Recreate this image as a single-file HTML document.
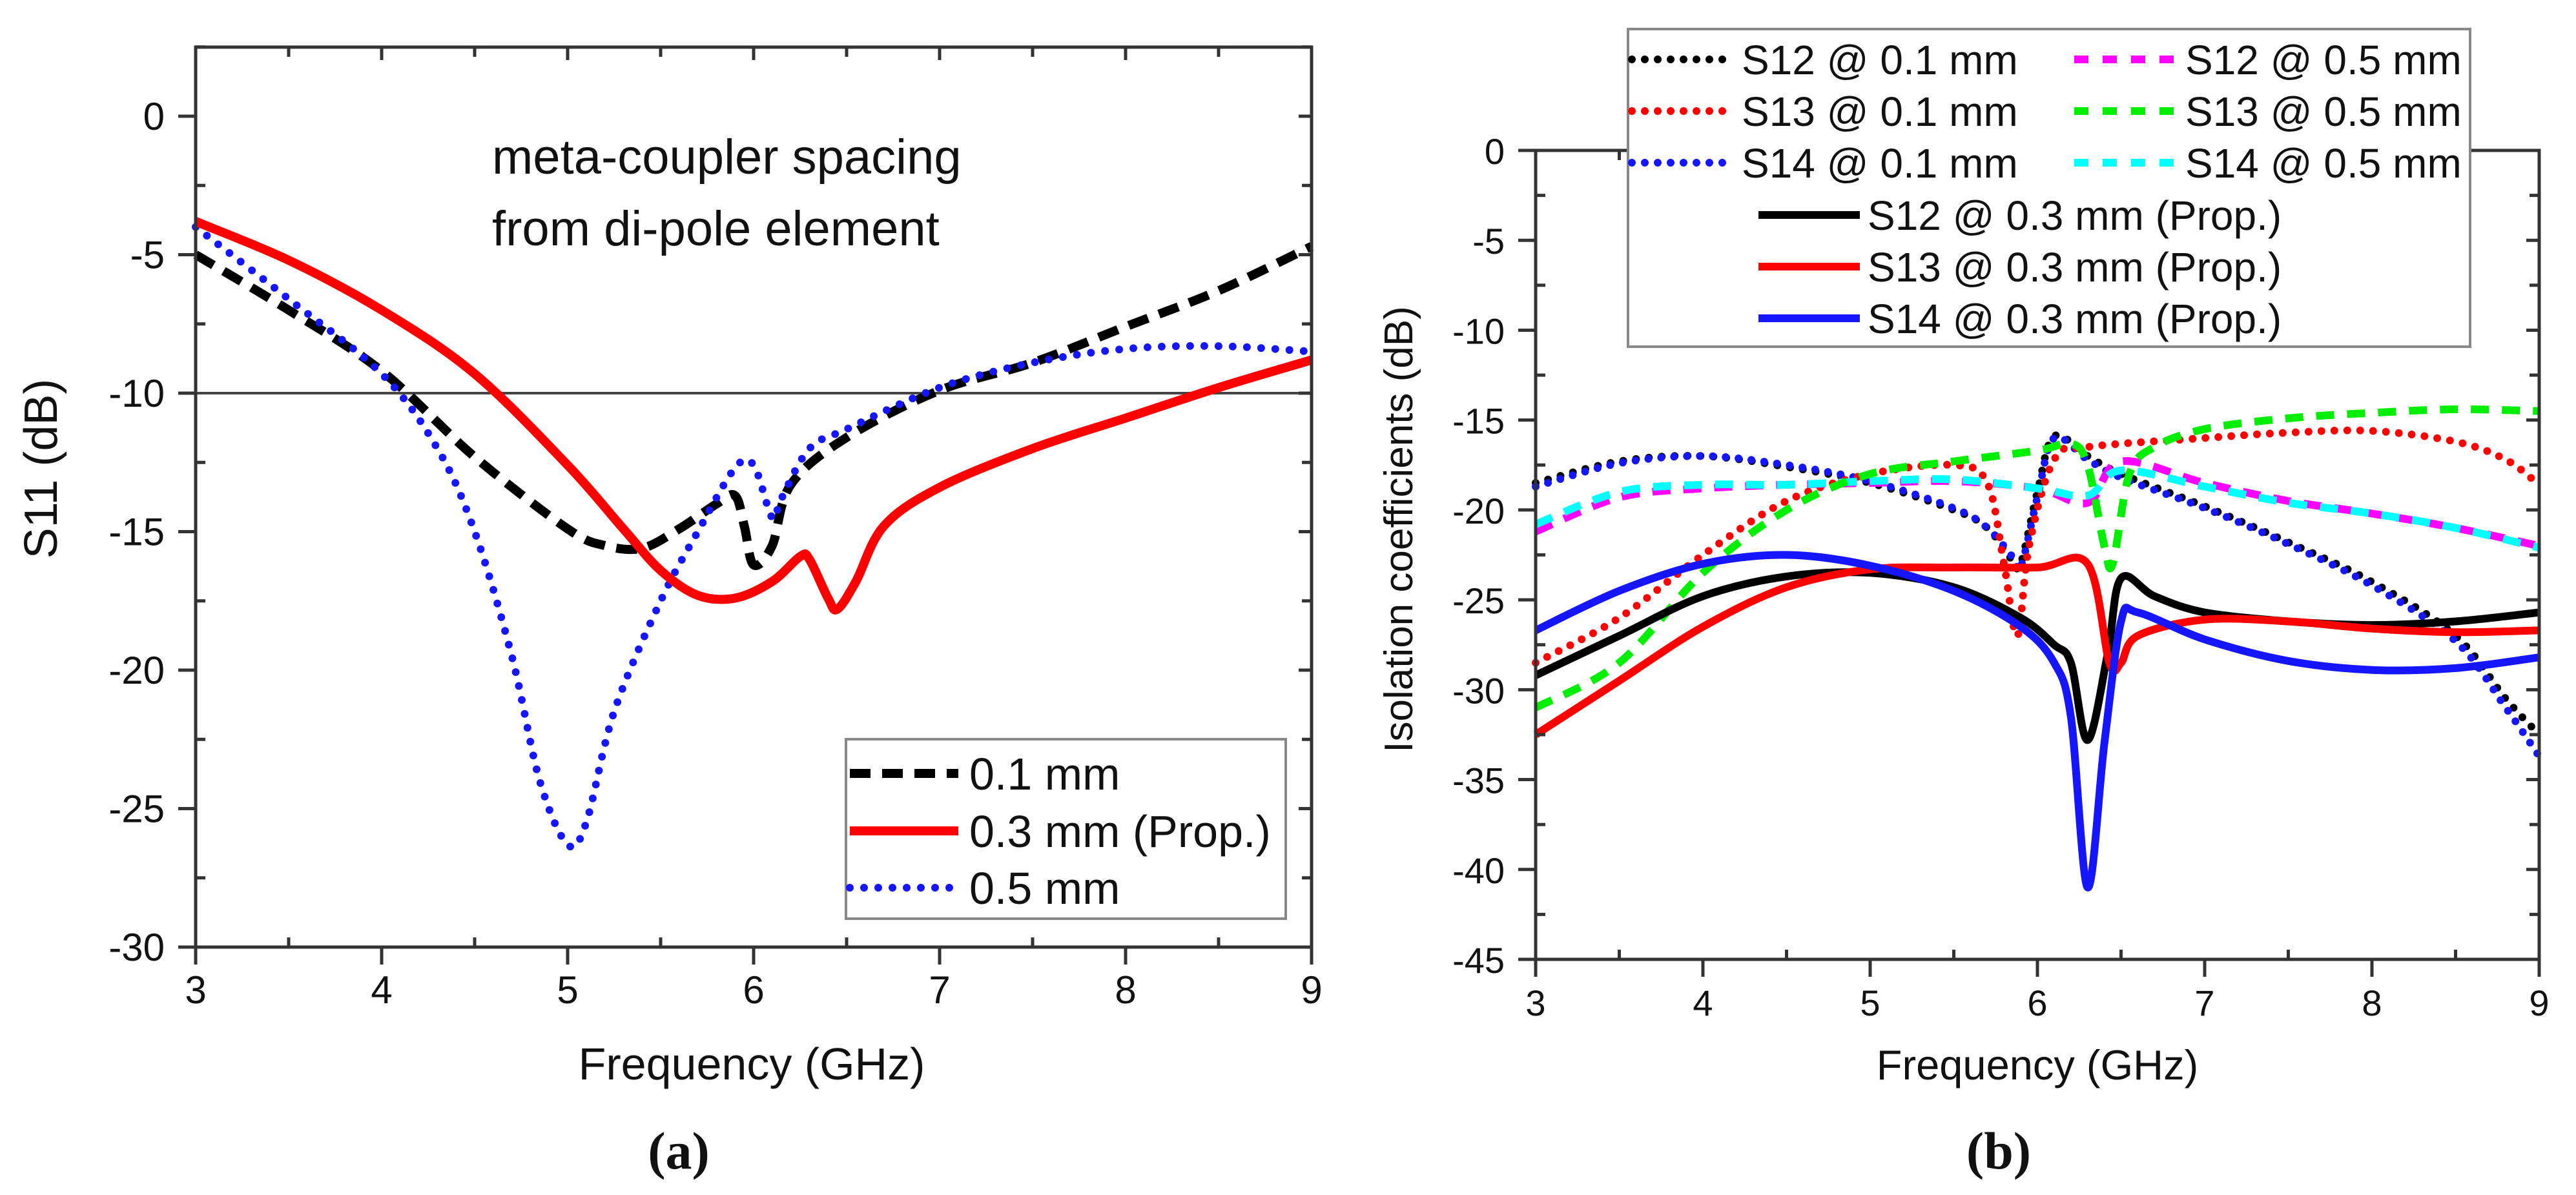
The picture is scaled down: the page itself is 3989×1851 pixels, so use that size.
<!DOCTYPE html>
<html><head><meta charset="utf-8"><style>
html,body{margin:0;padding:0;background:#fff;}
svg{display:block;font-family:"Liberation Sans",Arial,sans-serif;}
</style></head><body>
<svg id="fig" width="3989" height="1851" viewBox="0 0 3989 1851" xmlns="http://www.w3.org/2000/svg">
<rect width="3989" height="1851" fill="#fff"/>
<g id="pa"></g>
<g id="pb"></g>
</svg>
<script>
// ---------- Panel (a) data ----------
const aX01 = [3,3.5,4,4.5,5,5.2,5.4,5.6,5.8,5.9,5.95,6.0,6.1,6.2,6.5,7,7.5,8,8.5,9];
const aY01 = [-5.0,-7.0,-9.2,-12.3,-14.9,-15.5,-15.6,-14.9,-14.0,-13.7,-14.8,-16.2,-15.5,-13.3,-11.6,-9.9,-8.9,-7.6,-6.3,-4.7];
const aX03 = [3,3.5,4,4.5,5,5.3,5.5,5.7,5.9,6.1,6.25,6.3,6.4,6.45,6.55,6.7,7,7.5,8,8.5,9];
const aY03 = [-3.8,-5.2,-7.0,-9.3,-12.6,-14.9,-16.4,-17.3,-17.4,-16.8,-15.9,-16.0,-17.4,-17.8,-16.8,-14.8,-13.4,-12.0,-10.9,-9.8,-8.8];
const aX05 = [3,3.5,4,4.3,4.5,4.7,4.85,5,5.1,5.25,5.5,5.7,5.9,6.0,6.1,6.15,6.3,6.5,7,7.5,8,8.5,9];
const aY05 = [-4.0,-6.6,-9.3,-12,-15,-19.5,-24,-26.3,-25.5,-21.5,-17.5,-15,-12.7,-12.6,-14.5,-13.8,-12.0,-11.3,-9.8,-8.9,-8.4,-8.3,-8.5];
const aXTicks = [3,4,5,6,7,8,9];
const aYTicks = [0,-5,-10,-15,-20,-25,-30];
const aYLabels = ["0","-5","-10","-15","-20","-25","-30"];
const aRef = [-10];

// ---------- Panel (b) data ----------
const bX12_01 = [3,3.5,4,4.5,5,5.5,5.7,5.85,5.9,6.0,6.1,6.3,6.5,7,7.5,8,8.5,8.8,9];
const bY12_01 = [-18.5,-17.3,-17.0,-17.6,-18.5,-20.0,-21.0,-22.8,-23,-19,-15.9,-17.0,-18.0,-19.8,-21.8,-24,-27,-30.5,-32.5];
const bY14_01 = [-18.7,-17.4,-17.0,-17.5,-18.4,-19.9,-21.0,-22.6,-23.2,-19.3,-16.0,-17.2,-18.2,-19.9,-21.9,-24.2,-27.3,-31,-33.7];
const bX13_01 = [3,3.5,4,4.5,5,5.5,5.7,5.8,5.88,5.95,6.1,6.3,7,7.5,8,8.5,8.8,9];
const bY13_01 = [-28.5,-26,-22.5,-19.5,-18,-17.5,-18.5,-23,-27,-22,-17.2,-16.5,-16,-15.7,-15.6,-16.2,-17.2,-18.6];
const bX_05 = [3,3.5,4,4.5,5,5.5,6,6.3,6.5,7,7.5,8,8.5,9];
const bY12_05 = [-21.2,-19.3,-18.8,-18.6,-18.5,-18.4,-18.8,-19.6,-17.3,-18.5,-19.5,-20.2,-21,-22];
const bY14_05 = [-20.8,-19,-18.6,-18.6,-18.4,-18.3,-18.8,-19.2,-17.8,-18.7,-19.6,-20.2,-21,-22.1];
const bX13_05 = [3,3.5,4,4.5,5,5.5,6,6.2,6.3,6.4,6.45,6.55,6.7,7,7.5,8,8.5,9];
const bY13_05 = [-31,-28.5,-23.5,-20,-18,-17.3,-16.7,-16.3,-17.5,-22,-23,-18,-16.5,-15.5,-14.9,-14.6,-14.4,-14.5];
const bX12_03 = [3,3.5,4,4.5,5,5.5,5.9,6.1,6.2,6.3,6.42,6.5,6.7,7,7.5,8,8.5,9];
const bY12_03 = [-29.2,-27,-24.8,-23.7,-23.5,-24.3,-26,-27.5,-28.5,-32.8,-28,-23.8,-24.8,-25.7,-26.2,-26.4,-26.2,-25.7];
const bX13_03 = [3,3.5,4,4.5,5,5.5,6,6.3,6.43,6.5,6.6,7,7.5,8,8.5,9];
const bY13_03 = [-32.5,-29.5,-26.5,-24.3,-23.3,-23.2,-23.2,-23.0,-28.5,-28.5,-27,-26.1,-26.2,-26.6,-26.8,-26.7];
const bX14_03 = [3,3.5,4,4.5,5,5.5,5.9,6.1,6.2,6.3,6.4,6.5,6.6,7,7.5,8,8.5,9];
const bY14_03 = [-26.7,-24.5,-23,-22.5,-23.1,-24.5,-26.5,-28.5,-31.5,-41,-33,-26.2,-25.7,-27.2,-28.4,-28.9,-28.8,-28.2];
const bXTicks = [3,4,5,6,7,8,9];
const bYTicks = [0,-5,-10,-15,-20,-25,-30,-35,-40,-45];
const bYLabels = ["0","-5","-10","-15","-20","-25","-30","-35","-40","-45"];

const NS="http://www.w3.org/2000/svg";
function mk(parent,tag,attrs,text){const e=document.createElementNS(NS,tag);for(const k in attrs)e.setAttribute(k,attrs[k]);if(text!==undefined)e.textContent=text;parent.appendChild(e);return e;}
function scale(d0,d1,r0,r1){return v=>r0+(v-d0)*(r1-r0)/(d1-d0);}
function pathD(xs,ys,sx,sy){
  const P=xs.map((x,i)=>[sx(x),sy(ys[i])]);
  let d='M'+P[0][0].toFixed(1)+' '+P[0][1].toFixed(1);
  const k=0.5/3;
  for(let i=0;i<P.length-1;i++){
    const p0=P[Math.max(0,i-1)],p1=P[i],p2=P[i+1],p3=P[Math.min(P.length-1,i+2)];
    const c1=[p1[0]+(p2[0]-p0[0])*k,p1[1]+(p2[1]-p0[1])*k];
    const c2=[p2[0]-(p3[0]-p1[0])*k,p2[1]-(p3[1]-p1[1])*k];
    d+=' C'+c1[0].toFixed(1)+' '+c1[1].toFixed(1)+' '+c2[0].toFixed(1)+' '+c2[1].toFixed(1)+' '+p2[0].toFixed(1)+' '+p2[1].toFixed(1);
  }
  return d;
}
const STY={
  dash:{w:14,da:"32 18",cap:"butt"},
  solid:{w:14,da:"none",cap:"butt"},
  dot:{w:12,da:"0 22",cap:"round"},
  bdot:{w:12,da:"0 20",cap:"round"},
  bdash:{w:12,da:"28 20",cap:"butt"},
  bsolid:{w:12,da:"none",cap:"butt"}
};
function series(g,xs,ys,sx,sy,color,sty,name){
  const p=mk(g,'path',{d:pathD(xs,ys,sx,sy),fill:'none',stroke:color,'stroke-width':sty.w,'stroke-dasharray':sty.da,'stroke-linecap':sty.cap,'stroke-linejoin':'round'});
  
  
  return p;
}
function axes(g,L,R,T,B,sx,sy,xt,yt,yl,yMinor,xMinor,fs,name){
  const ax=mk(g,'g',{});
  
  
  mk(ax,'rect',{x:L,y:T,width:R-L,height:B-T,fill:'none',stroke:'#333',"stroke-width":5});
  xt.forEach(v=>{const x=sx(v);
    mk(ax,'line',{x1:x,y1:B,x2:x,y2:B+27,stroke:'#333','stroke-width':5});
    mk(ax,'line',{x1:x,y1:T,x2:x,y2:T+20,stroke:'#333','stroke-width':5});
    const t=mk(ax,'text',{x:x,y:B+87,'text-anchor':'middle','font-size':fs,fill:'#111'},String(v));
    
    
  });
  xMinor.forEach(v=>{const x=sx(v);
    mk(ax,'line',{x1:x,y1:B,x2:x,y2:B-15,stroke:'#333','stroke-width':5});
    mk(ax,'line',{x1:x,y1:T,x2:x,y2:T+15,stroke:'#333','stroke-width':5});
  });
  yt.forEach((v,i)=>{const y=sy(v);
    mk(ax,'line',{x1:L-27,y1:y,x2:L,y2:y,stroke:'#333','stroke-width':5});
    mk(ax,'line',{x1:R,y1:y,x2:R-20,y2:y,stroke:'#333','stroke-width':5});
    const t=mk(ax,'text',{x:L-48,y:y+21,'text-anchor':'end','font-size':fs,fill:'#111'},yl[i]);
    
    
  });
  yMinor.forEach(v=>{const y=sy(v);
    mk(ax,'line',{x1:L,y1:y,x2:L+15,y2:y,stroke:'#333','stroke-width':5});
    mk(ax,'line',{x1:R,y1:y,x2:R-15,y2:y,stroke:'#333','stroke-width':5});
  });
}
function range(a,b,s){const r=[];for(let v=a;v<=b+1e-9;v+=s)r.push(+v.toFixed(2));return r;}

// ---------- Panel (a) ----------
const pa=document.getElementById('pa');
const aL=303,aR=2031,aT=73,aB=1467;
const asx=scale(3,9,aL,aR), asy=scale(0,-30,180,1467);
const ref=mk(pa,'line',{x1:aL,y1:asy(aRef[0]),x2:aR,y2:asy(aRef[0]),stroke:'#444','stroke-width':4});


series(pa,aX01,aY01,asx,asy,'#000',STY.dash,'series-0.1mm');
series(pa,aX05,aY05,asx,asy,'#1515ff',STY.dot,'series-0.5mm');
series(pa,aX03,aY03,asx,asy,'#ff0000',STY.solid,'series-0.3mm');
axes(pa,aL,aR,aT,aB,asx,asy,aXTicks,aYTicks,aYLabels,range(-27.5,2.5,5),range(3.5,8.5,1),60,'panel-a');
let t;
t=mk(pa,'text',{x:762,y:269,'font-size':76,fill:'#111'},'meta-coupler spacing');
t=mk(pa,'text',{x:762,y:380,'font-size':76,fill:'#111'},'from di-pole element');
t=mk(pa,'text',{x:1164,y:1672,'text-anchor':'middle','font-size':70,fill:'#111'},'Frequency (GHz)');
t=mk(pa,'text',{x:0,y:0,'text-anchor':'middle','font-size':72,fill:'#111',transform:'translate(88,726) rotate(-90)'},'S11 (dB)');
t=mk(pa,'text',{x:1051,y:1810,'text-anchor':'middle','font-size':82,'font-weight':'bold','font-family':'Liberation Serif, serif',fill:'#111'},'(a)');
const lga=mk(pa,'g',{});


mk(lga,'rect',{x:1310,y:1145,width:681,height:278,fill:'#fff',stroke:'#888','stroke-width':4});
[['0.1 mm','#000',STY.dash,1198],['0.3 mm (Prop.)','#ff0000',STY.solid,1287],['0.5 mm','#1515ff',STY.dot,1375]].forEach(e=>{
  const g=mk(lga,'g',{});
  
  
  mk(g,'line',{x1:1316,y1:e[3],x2:1484,y2:e[3],stroke:e[1],'stroke-width':e[2].w,'stroke-dasharray':e[2].da,'stroke-linecap':e[2].cap});
  mk(g,'text',{x:1501,y:e[3]+25,'font-size':70,fill:'#111'},e[0]);
});

// ---------- Panel (b) ----------
const pb=document.getElementById('pb');
const bL=2378,bR=3932,bT=233,bB=1486;
const bsx=scale(3,9,bL,bR), bsy=scale(0,-45,bT,bB);
series(pb,bX12_01,bY12_01,bsx,bsy,'#000',STY.bdot,'s12-0.1mm');
series(pb,bX12_01,bY14_01,bsx,bsy,'#1515ff',STY.bdot,'s14-0.1mm');
series(pb,bX13_01,bY13_01,bsx,bsy,'#ff0000',STY.bdot,'s13-0.1mm');
series(pb,bX_05,bY12_05,bsx,bsy,'#ff00ff',STY.bdash,'s12-0.5mm');
series(pb,bX_05,bY14_05,bsx,bsy,'#00ffff',STY.bdash,'s14-0.5mm');
series(pb,bX13_05,bY13_05,bsx,bsy,'#00ee00',STY.bdash,'s13-0.5mm');
series(pb,bX12_03,bY12_03,bsx,bsy,'#000',STY.bsolid,'s12-0.3mm');
series(pb,bX13_03,bY13_03,bsx,bsy,'#ff0000',STY.bsolid,'s13-0.3mm');
series(pb,bX14_03,bY14_03,bsx,bsy,'#1515ff',STY.bsolid,'s14-0.3mm');
axes(pb,bL,bR,bT,bB,bsx,bsy,bXTicks,bYTicks,bYLabels,range(-42.5,-2.5,5),range(3.5,8.5,1),56,'panel-b');
t=mk(pb,'text',{x:3155,y:1672,'text-anchor':'middle','font-size':65,fill:'#111'},'Frequency (GHz)');
t=mk(pb,'text',{x:0,y:0,'text-anchor':'middle','font-size':62,fill:'#111',transform:'translate(2187,820) rotate(-90)'},'Isolation coefficients (dB)');
t=mk(pb,'text',{x:3095,y:1810,'text-anchor':'middle','font-size':82,'font-weight':'bold','font-family':'Liberation Serif, serif',fill:'#111'},'(b)');
const lgb=mk(pb,'g',{});


mk(lgb,'rect',{x:2521,y:45,width:1304,height:492,fill:'#fff',stroke:'#888','stroke-width':4});
[
 ['S12 @ 0.1 mm','#000',STY.bdot,2527,2677,2697,92],
 ['S13 @ 0.1 mm','#ff0000',STY.bdot,2527,2677,2697,172],
 ['S14 @ 0.1 mm','#1515ff',STY.bdot,2527,2677,2697,252],
 ['S12 @ 0.5 mm','#ff00ff',STY.bdash,3212,3370,3384,92],
 ['S13 @ 0.5 mm','#00ee00',STY.bdash,3212,3370,3384,172],
 ['S14 @ 0.5 mm','#00ffff',STY.bdash,3212,3370,3384,252],
 ['S12 @ 0.3 mm (Prop.)','#000',STY.bsolid,2723,2880,2892,333],
 ['S13 @ 0.3 mm (Prop.)','#ff0000',STY.bsolid,2723,2880,2892,413],
 ['S14 @ 0.3 mm (Prop.)','#1515ff',STY.bsolid,2723,2880,2892,493]
].forEach(e=>{
  const g=mk(lgb,'g',{});
  
  
  const da=e[2]===STY.bdash?'22 22':e[2].da;
  mk(g,'line',{x1:e[3],y1:e[6],x2:e[4],y2:e[6],stroke:e[1],'stroke-width':e[2].w,'stroke-dasharray':da,'stroke-linecap':e[2].cap});
  mk(g,'text',{x:e[5],y:e[6]+23,'font-size':64,fill:'#111'},e[0]);
});
</script>
</body></html>
